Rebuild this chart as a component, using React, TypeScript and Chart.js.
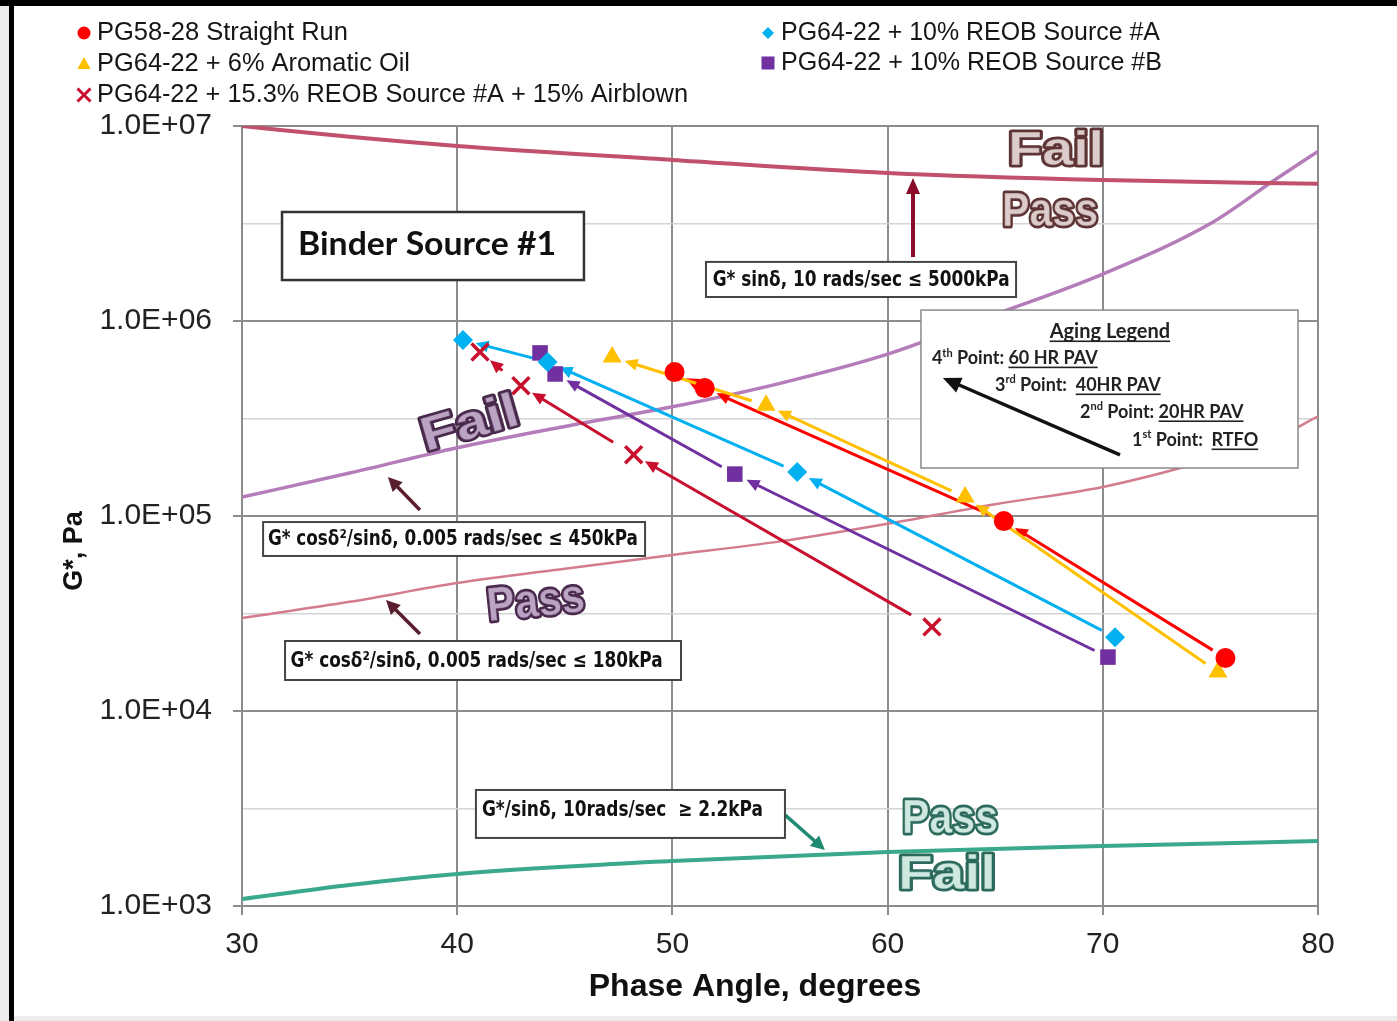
import React, { useEffect, useRef } from "react";
import { Chart, registerables } from "chart.js";
Chart.register(...registerables);

// ---------- data (phase angle in degrees, G* in Pa); order: RTFO, 20HR PAV, 40HR PAV, 60HR PAV ----------
const seriesNames = [
  "PG58-28 Straight Run",
  "PG64-22 + 6%  Aromatic Oil",
  "PG64-22 + 10%  REOB Source #A",
  "PG64-22 + 10%  REOB Source #B",
  "PG64-22 + 15.3%  REOB Source #A + 15%  Airblown",
];
const straightRunDeg = [75.7, 65.4, 51.5, 50.1];
const straightRunG = [18700, 94200, 453000, 547000];
const aromaticDeg = [75.35, 63.6, 54.35, 47.2];
const aromaticG = [15850, 125000, 370000, 653000];
const reobADeg = [70.57, 55.8, 44.2, 40.27];
const reobAG = [23900, 168000, 617000, 800000];
const reobBDeg = [70.24, 52.9, 44.55, 43.85];
const reobBG = [18900, 164000, 535000, 686000];
const airblownDeg = [62.06, 48.2, 42.96, 41.06];
const airblownG = [27000, 206000, 465000, 693000];

// specification curves
const gSinDeg = [30, 35, 40, 50, 60, 70, 80];
const gSinG = [10000000, 8800000, 7900000, 6700000, 5740000, 5280000, 5050000];
const grDeg = [30, 35, 40, 45, 50, 55, 60, 65, 70, 75, 78, 80];
const gr450G = [125000, 166000, 224000, 288000, 363000, 479000, 676000, 1080000, 1740000, 3160000, 5300000, 7410000];
const gr180G = [30000, 36300, 45300, 53700, 63100, 74100, 91200, 115000, 141000, 195000, 250000, 324000];
const gOverSinDeg = [30, 35, 40, 50, 60, 70, 80];
const gOverSinG = [1087, 1282, 1459, 1702, 1893, 2032, 2153];

// ticks
const xTickValues = [30, 40, 50, 60, 70, 80];
const yMajorTicks = [1000, 10000, 100000, 1000000, 10000000];
const yMinorTicks = [3162, 31623, 316228, 3162278];

const FONT = "'Liberation Sans', Arial, sans-serif";
const NARROW = "'Liberation Sans Narrow', 'DejaVu Sans Condensed', 'Liberation Sans', sans-serif";
const CAL = "Lato, 'Open Sans', sans-serif";
const BLACKFONT = "'Liberation Sans', Arial, sans-serif";

const COLORS = ["#ff0000", "#ffc000", "#00b0f0", "#7030a0", "#c8102e"];

const pts = (xs: number[], ys: number[]) => xs.map((x, i) => ({ x, y: ys[i] }));
const isMajor = (v: number) => Math.abs(Math.log10(v) - Math.round(Math.log10(v))) < 1e-6;

function fitText(ctx: CanvasRenderingContext2D, text: string, x: number, y: number, width: number, align = "left") {
  const w0 = ctx.measureText(text).width;
  const sx = width / w0;
  ctx.save();
  ctx.translate(x, y);
  ctx.scale(sx, 1);
  ctx.textAlign = "left";
  ctx.fillText(text, align === "center" ? -w0 / 2 : 0, 0);
  ctx.restore();
}

function drawMarker(ctx: CanvasRenderingContext2D, style: string, x: number, y: number, r: number, color: string) {
  ctx.save();
  ctx.fillStyle = color;
  ctx.strokeStyle = color;
  ctx.beginPath();
  if (style === "circle") {
    ctx.arc(x, y, r, 0, Math.PI * 2);
    ctx.fill();
  } else if (style === "triangle") {
    ctx.moveTo(x, y - r);
    ctx.lineTo(x + r * 0.95, y + r * 0.7);
    ctx.lineTo(x - r * 0.95, y + r * 0.7);
    ctx.closePath();
    ctx.fill();
  } else if (style === "rectRot") {
    ctx.moveTo(x, y - r);
    ctx.lineTo(x + r, y);
    ctx.lineTo(x, y + r);
    ctx.lineTo(x - r, y);
    ctx.closePath();
    ctx.fill();
  } else if (style === "rect") {
    ctx.fillRect(x - r, y - r, 2 * r, 2 * r);
  } else if (style === "crossRot") {
    ctx.lineWidth = 3;
    ctx.moveTo(x - r, y - r);
    ctx.lineTo(x + r, y + r);
    ctx.moveTo(x + r, y - r);
    ctx.lineTo(x - r, y + r);
    ctx.stroke();
  }
  ctx.restore();
}

function arrow(ctx: CanvasRenderingContext2D, x0: number, y0: number, x1: number, y1: number, color: string, lw: number, hl: number, hw: number) {
  const dx = x1 - x0, dy = y1 - y0;
  const len = Math.hypot(dx, dy);
  const ux = dx / len, uy = dy / len;
  const bx = x1 - ux * hl, by = y1 - uy * hl;
  ctx.save();
  ctx.strokeStyle = color;
  ctx.fillStyle = color;
  ctx.lineWidth = lw;
  ctx.lineCap = "butt";
  ctx.beginPath();
  ctx.moveTo(x0, y0);
  ctx.lineTo(x1 - ux * hl * 0.6, y1 - uy * hl * 0.6);
  ctx.stroke();
  ctx.beginPath();
  ctx.moveTo(x1, y1);
  ctx.lineTo(bx - uy * hw, by + ux * hw);
  ctx.lineTo(bx + uy * hw, by - ux * hw);
  ctx.closePath();
  ctx.fill();
  ctx.restore();
}

export default function App() {
  const ref = useRef<HTMLCanvasElement>(null);

  useEffect(() => {
    document.body.style.margin = "0";
    document.body.style.overflow = "hidden";
    const canvas = ref.current!;

    const seriesDeg = [straightRunDeg, aromaticDeg, reobADeg, reobBDeg, airblownDeg];
    const seriesG = [straightRunG, aromaticG, reobAG, reobBG, airblownG];
    const styles = ["circle", "triangle", "rectRot", "rect", "crossRot"];
    const radii = [10, 11, 10, 11, 12];

    const markerSets = seriesNames.map((name, i) => ({
      label: name,
      data: pts(seriesDeg[i], seriesG[i]),
      showLine: false,
      pointStyle: styles[i],
      pointRadius: radii[i],
      pointHoverRadius: radii[i],
      backgroundColor: COLORS[i],
      borderColor: COLORS[i],
      pointBorderWidth: i === 4 ? 3.5 : 0,
    }));

    const curve = (label: string, xs: number[], ys: number[], color: string, w: number) => ({
      label,
      data: pts(xs, ys),
      showLine: true,
      pointRadius: 0,
      borderColor: color,
      borderWidth: w,
      cubicInterpolationMode: "monotone",
      fill: false,
    });

    const decor = {
      id: "decor",
      beforeDraw(chart: any) {
        const ctx = chart.ctx;
        ctx.save();
        ctx.fillStyle = "#ffffff";
        ctx.fillRect(0, 0, chart.width, chart.height);
        ctx.fillStyle = "#ececec";
        ctx.fillRect(0, 0, 9, chart.height);
        ctx.fillRect(0, chart.height - 5, chart.width, 5);
        ctx.fillStyle = "#000000";
        ctx.fillRect(9, 0, 5, chart.height);
        ctx.fillRect(0, 0, chart.width, 6);
        ctx.restore();
      },
      beforeDatasetsDraw(chart: any) {
        const { ctx, chartArea: a } = chart;
        ctx.save();
        ctx.strokeStyle = "#8c8c8c";
        ctx.lineWidth = 2;
        ctx.strokeRect(a.left, a.top, a.right - a.left, a.bottom - a.top);
        ctx.restore();
      },
      beforeDatasetDraw(chart: any, args: any) {
        if (args.index !== 4) return;
        const ctx = chart.ctx;
        const xs = chart.scales.x, ys = chart.scales.y;
        seriesDeg.forEach((degs, s) => {
          for (let i = 0; i < degs.length - 1; i++) {
            const px = xs.getPixelForValue(degs[i]), py = ys.getPixelForValue(seriesG[s][i]);
            const qx = xs.getPixelForValue(degs[i + 1]), qy = ys.getPixelForValue(seriesG[s][i + 1]);
            const len = Math.hypot(qx - px, qy - py);
            const ux = (qx - px) / len, uy = (qy - py) / len;
            const g0 = s === 4 ? 24 : 15;
            const g1 = 13;
            arrow(ctx, px + ux * g0, py + uy * g0, qx - ux * g1, qy - uy * g1, COLORS[s], 3, 13, 6);
          }
        });
      },
      afterDraw(chart: any) {
        const ctx: CanvasRenderingContext2D = chart.ctx;
        const xs = chart.scales.x, ys = chart.scales.y;
        const X = (d: number) => xs.getPixelForValue(d);
        const Y = (lg: number) => ys.getPixelForValue(Math.pow(10, lg));
        const box = (d0: number, l0: number, d1: number, l1: number, stroke: string, lw: number) => {
          const x0 = X(d0), y0 = Y(l0), x1 = X(d1), y1 = Y(l1);
          ctx.save();
          ctx.fillStyle = "#ffffff";
          ctx.fillRect(x0, y0, x1 - x0, y1 - y0);
          ctx.strokeStyle = stroke;
          ctx.lineWidth = lw;
          ctx.strokeRect(x0, y0, x1 - x0, y1 - y0);
          ctx.restore();
        };
        const outlined = (t: string, d: number, l: number, w: number, rot: number, fill: string, stroke: string) => {
          ctx.save();
          ctx.font = `900 48px ${BLACKFONT}`;
          const w0 = ctx.measureText(t).width;
          ctx.translate(X(d), Y(l));
          ctx.rotate((rot * Math.PI) / 180);
          ctx.scale(w / w0, 1);
          ctx.textAlign = "center";
          ctx.textBaseline = "middle";
          ctx.lineJoin = "round";
          ctx.strokeStyle = stroke;
          ctx.lineWidth = 5;
          ctx.strokeText(t, 0, 0);
          ctx.fillStyle = fill;
          ctx.fillText(t, 0, 0);
          ctx.lineWidth = 1;
          ctx.strokeStyle = stroke;
          ctx.globalAlpha = 0.5;
          ctx.strokeText(t, 0, 0);
          ctx.restore();
        };

        // Pass / Fail labels
        outlined("Fail", 67.83, 6.867, 96, 0, "#dccbcb", "#5e3434");
        outlined("Pass", 67.55, 6.554, 96, 0, "#dccbcb", "#5e3434");
        outlined("Fail", 40.6, 5.467, 100, -16, "#bba3c4", "#4a2a4c");
        outlined("Pass", 43.66, 4.554, 98, -6, "#bba3c4", "#4a2a4c");
        outlined("Pass", 62.9, 3.441, 96, 0, "#cfe9e1", "#2c6a5c");
        outlined("Fail", 62.76, 3.154, 98, 0, "#cfe9e1", "#2c6a5c");

        // Binder source box
        box(31.86, 6.559, 45.89, 6.21, "#333333", 2.5);
        ctx.save();
        ctx.fillStyle = "#111111";
        ctx.font = `bold 32px ${CAL}`;
        ctx.textBaseline = "middle";
        fitText(ctx, "Binder Source #1", X(38.6), Y(6.39), 258, "center");
        ctx.restore();

        // specification boxes and arrows
        arrow(ctx, X(61.18), Y(6.328), X(61.18), Y(6.733), "#8b0b2a", 4, 16, 7);
        box(51.56, 6.303, 65.97, 6.123, "#444444", 2);
        arrow(ctx, X(38.27), Y(5.031), X(36.78), Y(5.2), "#5a1f2e", 3.5, 14, 7);
        arrow(ctx, X(38.27), Y(4.395), X(36.69), Y(4.569), "#5a1f2e", 3.5, 14, 7);
        box(30.98, 4.969, 48.73, 4.795, "#444444", 2);
        box(32.0, 4.359, 50.4, 4.159, "#444444", 2);
        arrow(ctx, X(55.23), Y(3.467), X(57.09), Y(3.287), "#1f8a72", 3.5, 14, 7);
        box(40.87, 3.595, 55.23, 3.349, "#444444", 2);
        ctx.save();
        ctx.fillStyle = "#111111";
        ctx.font = `bold 21px ${NARROW}`;
        ctx.textBaseline = "middle";
        fitText(ctx, "G* sinδ, 10 rads/sec ≤ 5000kPa", X(58.77), Y(6.21), 297, "center");
        fitText(ctx, "G* cosδ²/sinδ, 0.005 rads/sec ≤ 450kPa", X(39.8), Y(4.877), 370, "center");
        fitText(ctx, "G* cosδ²/sinδ, 0.005 rads/sec ≤ 180kPa", X(40.9), Y(4.256), 372, "center");
        fitText(ctx, "G*/sinδ, 10rads/sec  ≥ 2.2kPa", X(41.15), Y(3.492), 281, "left");
        ctx.restore();

        // aging legend
        box(61.55, 6.056, 79.07, 5.246, "#8a8a8a", 1.5);
        arrow(ctx, X(70.8), Y(5.313), X(62.57), Y(5.708), "#111111", 3.5, 18, 8);
        const rich = (parts: { t: string; sup?: boolean; u?: boolean }[], x: number, y: number, size: number) => {
          ctx.save();
          ctx.fillStyle = "#222222";
          ctx.textBaseline = "alphabetic";
          ctx.textAlign = "left";
          let cx = x;
          for (const p of parts) {
            ctx.font = `bold ${p.sup ? Math.round(size * 0.6) : size}px ${CAL}`;
            const w = ctx.measureText(p.t).width;
            ctx.fillText(p.t, cx, p.sup ? y - size * 0.42 : y);
            if (p.u) {
              ctx.fillRect(cx, y + 2.5, w, 1.6);
            }
            cx += w;
          }
          ctx.restore();
        };
        ctx.save();
        ctx.font = `bold 20px ${CAL}`;
        const agW = ctx.measureText("Aging Legend").width;
        ctx.restore();
        rich([{ t: "Aging Legend", u: true }], X(70.33) - agW / 2, Y(5.913), 20);
        rich([{ t: "4" }, { t: "th", sup: true }, { t: " Point: " }, { t: "60 HR PAV", u: true }], X(62.06), Y(5.779), 18);
        rich([{ t: "3" }, { t: "rd", sup: true }, { t: " Point:  " }, { t: "40HR PAV", u: true }], X(64.99), Y(5.641), 18);
        rich([{ t: "2" }, { t: "nd", sup: true }, { t: " Point: " }, { t: "20HR PAV", u: true }], X(68.94), Y(5.503), 18);
        rich([{ t: "1" }, { t: "st", sup: true }, { t: " Point:  " }, { t: "RTFO", u: true }], X(71.36), Y(5.359), 18);

        // axis titles
        ctx.save();
        ctx.fillStyle = "#111111";
        ctx.font = `bold 32px ${FONT}`;
        ctx.textAlign = "center";
        ctx.textBaseline = "middle";
        ctx.fillText("Phase Angle, degrees", X(53.84), 987);
        ctx.translate(75, Y(4.82));
        ctx.rotate(-Math.PI / 2);
        ctx.font = `bold 27px ${FONT}`;
        ctx.fillText("G*, Pa", 0, 0);
        ctx.restore();

        // legend
        const legendPos = [
          { x: 84, y: 33, r: 6.5, w: 251 },
          { x: 84, y: 64, r: 7, w: 313 },
          { x: 768, y: 33, r: 6, w: 379 },
          { x: 768, y: 63, r: 6.5, w: 381 },
          { x: 84, y: 95, r: 6.5, w: 591 },
        ];
        ctx.save();
        ctx.fillStyle = "#161616";
        ctx.font = `25px ${FONT}`;
        ctx.textBaseline = "middle";
        legendPos.forEach((p, i) => {
          drawMarker(ctx, styles[i], p.x, p.y, p.r, COLORS[i]);
          ctx.fillStyle = "#161616";
          fitText(ctx, seriesNames[i].replace(/  /g, " "), p.x + 13, p.y, p.w, "left");
        });
        ctx.restore();
      },
    };

    const chart = new Chart(canvas, {
      type: "scatter",
      data: {
        datasets: [
          ...markerSets,
          curve("G* sinδ ≤ 5000kPa", gSinDeg, gSinG, "#c0506c", 4),
          curve("Glover-Rowe 450kPa", grDeg, gr450G, "#b57cba", 3.5),
          curve("Glover-Rowe 180kPa", grDeg, gr180G, "#d27c8e", 2.5),
          curve("G*/sinδ ≥ 2.2kPa", gOverSinDeg, gOverSinG, "#3aa98b", 4),
        ] as any,
      },
      options: {
        animation: false,
        responsive: false,
        devicePixelRatio: 1,
        layout: { padding: { top: 126, right: 79, left: 0, bottom: 0 } },
        plugins: { legend: { display: false }, tooltip: { enabled: false } },
        scales: {
          x: {
            type: "linear",
            min: 30,
            max: 80,
            afterBuildTicks: (s: any) => {
              s.ticks = xTickValues.map((v) => ({ value: v }));
            },
            afterFit: (s: any) => {
              s.height = 115;
            },
            ticks: { font: { size: 30, family: FONT }, color: "#222222", padding: 12, autoSkip: false, maxRotation: 0 },
            grid: { color: "#8c8c8c", lineWidth: 2, tickLength: 9, tickColor: "#8c8c8c" },
            border: { display: false },
          },
          y: {
            type: "logarithmic",
            min: 1000,
            max: 10000000,
            afterBuildTicks: (s: any) => {
              s.ticks = [...yMajorTicks, ...yMinorTicks].sort((a, b) => a - b).map((v) => ({ value: v }));
            },
            afterFit: (s: any) => {
              s.width = 242;
            },
            ticks: {
              autoSkip: false,
              font: { size: 30, family: FONT },
              color: "#222222",
              padding: 21,
              callback: (v: any) => (isMajor(Number(v)) ? "1.0E+" + String(Math.round(Math.log10(Number(v)))).padStart(2, "0") : ""),
            },
            grid: {
              color: (c: any) => (c.tick && isMajor(c.tick.value) ? "#8c8c8c" : "#d4d4d4"),
              lineWidth: (c: any) => (c.tick && isMajor(c.tick.value) ? 2 : 1.5),
              tickColor: (c: any) => (c.tick && isMajor(c.tick.value) ? "#8c8c8c" : "rgba(0,0,0,0)"),
              tickLength: 9,
            },
            border: { display: false },
          },
        },
      },
      plugins: [decor],
    } as any);
    return () => chart.destroy();
  }, []);

  return (
    <div style={{ width: 1397, height: 1021 }}>
      <canvas ref={ref} width={1397} height={1021} style={{ display: "block" }} />
    </div>
  );
}
